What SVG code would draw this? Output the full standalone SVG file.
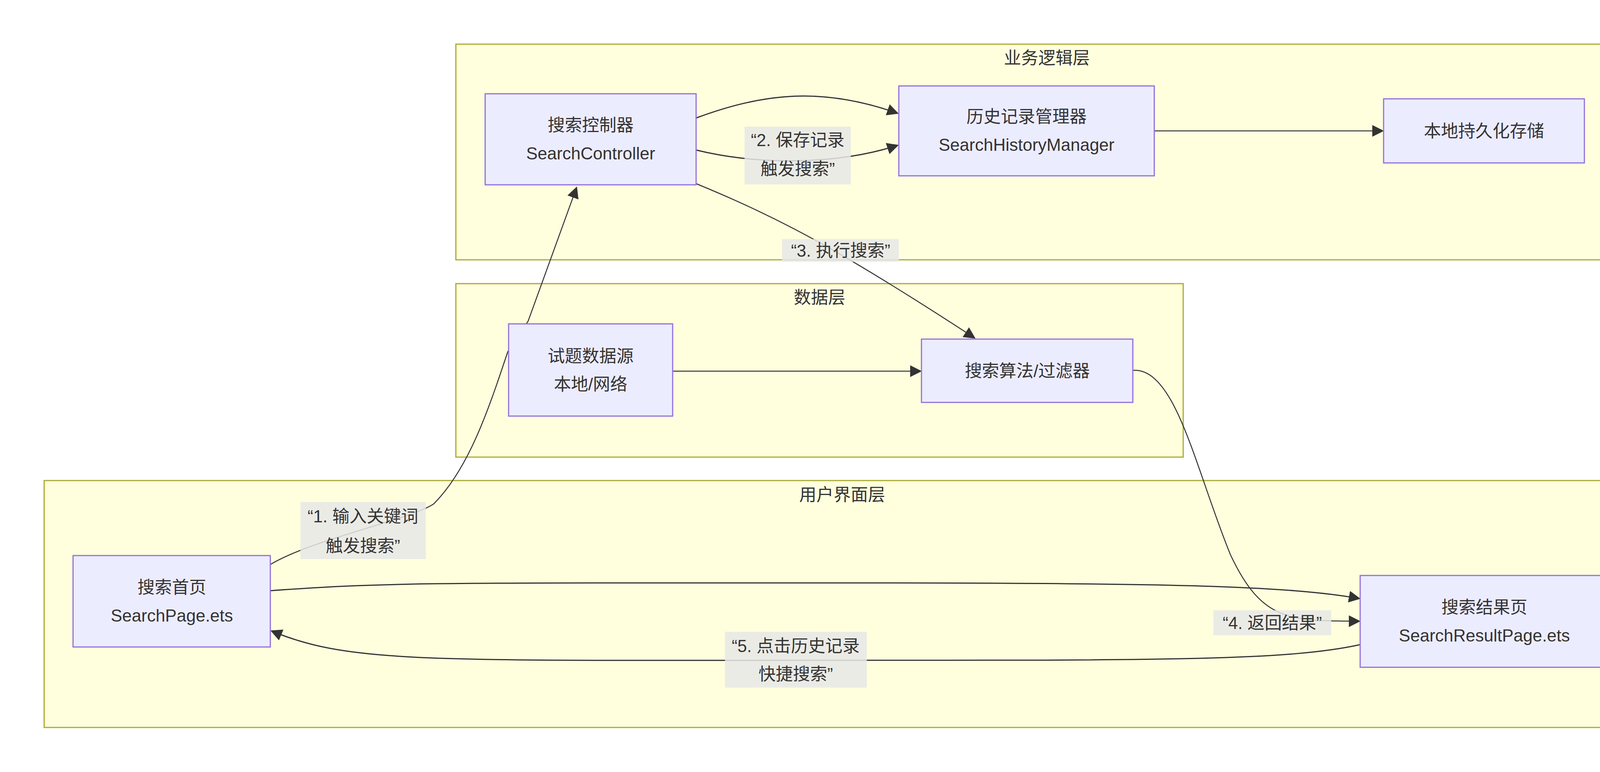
<svg xmlns="http://www.w3.org/2000/svg" width="4306" height="1976" viewBox="0 0 4306 1976">
<style>
.c{fill:#ffffde;stroke:#aaaa33;stroke-width:3}
.n{fill:#ececff;stroke:#9370db;stroke-width:3}
text{font-family:"Liberation Sans","Noto Sans CJK SC",sans-serif;font-size:44px;fill:#333;text-anchor:middle;dominant-baseline:central}
.e{fill:none;stroke:#333;stroke-width:3}
.lb{fill:#e8e8e8;opacity:0.85}
</style>
<defs><marker id="a" viewBox="0 0 10 10" refX="9" refY="5" markerWidth="30" markerHeight="30" markerUnits="userSpaceOnUse" orient="auto"><path d="M0,0L10,5L0,10z" fill="#333"/></marker></defs>
<g id="clusters">
<rect class="c" x="1167" y="113" width="3026" height="552"/>
<text x="2680" y="148">业务逻辑层</text>
<rect class="c" x="1167" y="726" width="1862" height="444"/>
<text x="2098" y="761">数据层</text>
<rect class="c" x="113" y="1230" width="4080" height="632"/>
<text x="2156" y="1266">用户界面层</text>
</g>
<g id="edges">
<path class="e" d="M692,1445 C800,1380 1050,1330 1110,1290 C1200,1200 1250,1050 1300,900 L1352,822 L1476,480" marker-end="url(#a)" style="stroke-width:2.5"/>
<path class="e" d="M1782,302 C1950,240 2100,220 2298,290" marker-end="url(#a)"/>
<path class="e" d="M1782,384 C1950,425 2150,420 2298,372" marker-end="url(#a)"/>
<path class="e" d="M2955,335 L3540,335" marker-end="url(#a)" style="stroke-width:2.5"/>
<path class="e" d="M1782,470 C2000,560 2150,640 2495,865" marker-end="url(#a)" style="stroke-width:2.5"/>
<path class="e" d="M1722,950 L2357,950" marker-end="url(#a)" style="stroke-width:2.5"/>
<path class="e" d="M2900,948 C3010,940 3060,1200 3150,1420 C3230,1590 3300,1590 3480,1590" marker-end="url(#a)" style="stroke-width:2.5"/>
<path class="e" d="M692,1512 C1000,1490 1100,1492 2200,1492 C3000,1492 3300,1500 3480,1532" marker-end="url(#a)"/>
<path class="e" d="M3482,1650 C3300,1690 3000,1690 2200,1690 C1100,1690 900,1700 695,1615" marker-end="url(#a)"/>
</g>
<g id="labels">
<rect class="lb" x="1906" y="324" width="272" height="148"/>
<text x="2042" y="358">“2. 保存记录</text><text x="2042" y="432">触发搜索”</text>
<rect class="lb" x="2002" y="612" width="299" height="58"/>
<text x="2152" y="641">“3. 执行搜索”</text>
<rect class="lb" x="769" y="1285" width="321" height="146"/>
<text x="929" y="1321">“1. 输入关键词</text><text x="929" y="1397">触发搜索”</text>
<rect class="lb" x="3106" y="1562" width="302" height="64"/>
<text x="3257" y="1594">“4. 返回结果”</text>
<rect class="lb" x="1856" y="1617" width="363" height="143"/>
<text x="2037" y="1653">“5. 点击历史记录</text><text x="2037" y="1725">快捷搜索”</text>
</g>
<g id="n1"><rect class="n" x="1242" y="240" width="540" height="233"/><text x="1512" y="320">搜索控制器</text><text x="1512" y="392">SearchController</text></g>
<g id="n2"><rect class="n" x="2301" y="220" width="654" height="230"/><text x="2628" y="298">历史记录管理器</text><text x="2628" y="370">SearchHistoryManager</text></g>
<g id="n3"><rect class="n" x="3542" y="253" width="514" height="164"/><text x="3799" y="335">本地持久化存储</text></g>
<g id="n4"><rect class="n" x="1302" y="829" width="420" height="236"/><text x="1512" y="911">试题数据源</text><text x="1512" y="983">本地/网络</text></g>
<g id="n5"><rect class="n" x="2359" y="868" width="541" height="162"/><text x="2630" y="949">搜索算法/过滤器</text></g>
<g id="n6"><rect class="n" x="187" y="1422" width="505" height="234"/><text x="440" y="1503">搜索首页</text><text x="440" y="1575">SearchPage.ets</text></g>
<g id="n7"><rect class="n" x="3482" y="1473" width="637" height="235"/><text x="3800" y="1554">搜索结果页</text><text x="3800" y="1626">SearchResultPage.ets</text></g>
</svg>
